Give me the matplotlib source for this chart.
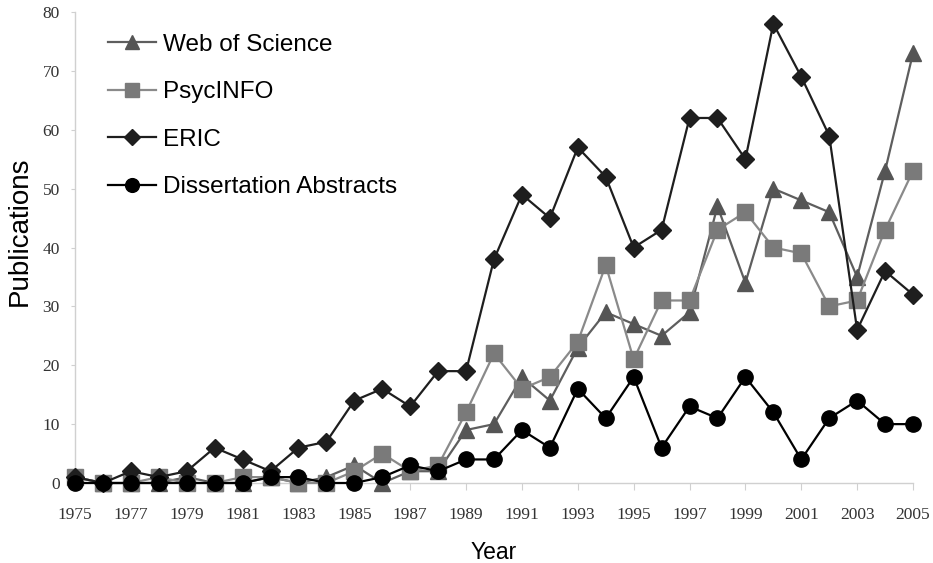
import matplotlib
matplotlib.use("Agg")
import matplotlib.pyplot as plt

years = list(range(1975, 2006))
web_of_science = [1, 0, 0, 0, 1, 0, 0, 1, 0, 1, 3, 0, 2, 2, 9, 10, 18, 14, 23, 29,
                  27, 25, 29, 47, 34, 50, 48, 46, 35, 53, 73]
psycinfo = [1, 0, 0, 1, 0, 0, 1, 1, 0, 0, 2, 5, 2, 3, 12, 22, 16, 18, 24, 37,
            21, 31, 31, 43, 46, 40, 39, 30, 31, 43, 53]
eric = [1, 0, 2, 1, 2, 6, 4, 2, 6, 7, 14, 16, 13, 19, 19, 38, 49, 45, 57, 52,
        40, 43, 62, 62, 55, 78, 69, 59, 26, 36, 32]
dissertation = [0, 0, 0, 0, 0, 0, 0, 1, 1, 0, 0, 1, 3, 2, 4, 4, 9, 6, 16, 11,
                18, 6, 13, 11, 18, 12, 4, 11, 14, 10, 10]
xtick_labels = [str(y) for y in range(1975, 2006, 2)]
ytick_values = list(range(0, 81, 10))

fig = plt.figure(figsize=(9.33, 5.63), dpi=100)
ax = fig.add_axes([75/933, 1-483/563, (913-75)/933, (483-12)/563])

ax.plot(years, web_of_science, color="#5e5e5e", lw=1.6, marker="^", ms=11,
        mfc="#555555", mec="#555555", label="Web of Science", clip_on=False, zorder=3)
ax.plot(years, psycinfo, color="#8a8a8a", lw=1.6, marker="s", ms=11,
        mfc="#7a7a7a", mec="#7a7a7a", label="PsycINFO", clip_on=False, zorder=4)
ax.plot(years, eric, color="#1e1e1e", lw=1.6, marker="D", ms=9,
        mfc="#1e1e1e", mec="#1e1e1e", label="ERIC", clip_on=False, zorder=5)
ax.plot(years, dissertation, color="#000000", lw=1.6, marker="o", ms=11,
        mfc="#000000", mec="#000000", label="Dissertation Abstracts", clip_on=False, zorder=6)

ax.set_xlim(1975, 2005)
ax.set_ylim(0, 80)
ax.set_xticks(list(range(1975, 2006, 2)))
ax.set_xticklabels(xtick_labels, family="Liberation Serif", fontsize=12.5, color="#333333")
ax.set_yticks(ytick_values)
ax.set_yticklabels([str(v) for v in ytick_values], family="Liberation Serif",
                   fontsize=12.5, color="#333333")

for s in ["top", "right"]:
    ax.spines[s].set_visible(False)
for s in ["left", "bottom"]:
    ax.spines[s].set_color("#d0d0d0")
    ax.spines[s].set_linewidth(1.0)
ax.tick_params(axis="y", length=3, color="#d0d0d0", direction="out", pad=8)
ax.tick_params(axis="x", length=5, color="#d0d0d0", direction="out", pad=12)

ax.set_ylabel("Publications", family="Liberation Sans", fontsize=20)
ax.yaxis.set_label_coords(-0.051, 0.535)
ax.set_xlabel("Year", family="Liberation Sans", fontsize=16.5, labelpad=13)

leg = ax.legend(loc="upper left", bbox_to_anchor=(0.013, 1.0), frameon=False,
                prop={"family": "Liberation Sans", "size": 17.5},
                handlelength=2.0, labelspacing=1.05, handletextpad=0.26,
                markerscale=0.9)

fig.savefig("out.png", dpi=100)
